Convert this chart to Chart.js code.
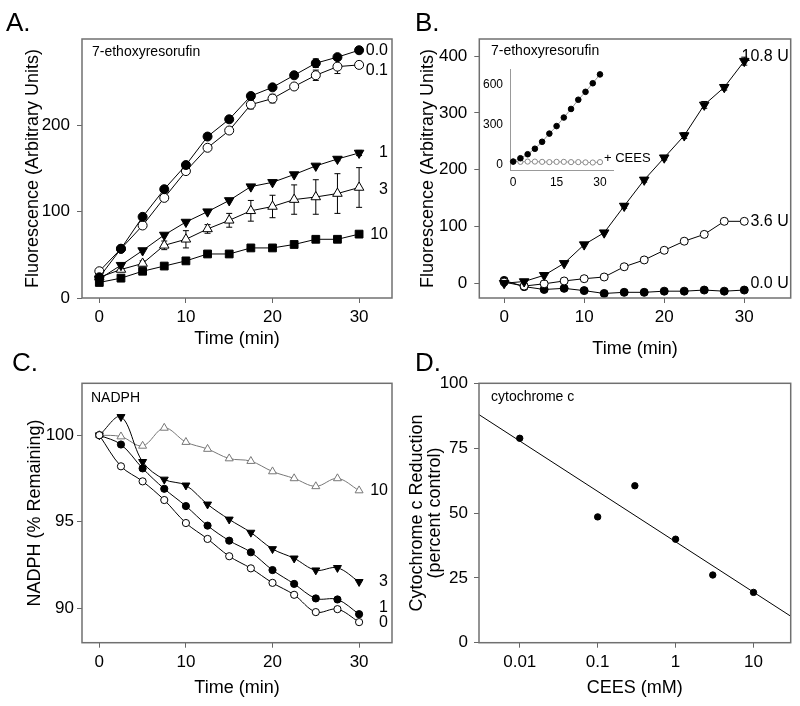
<!DOCTYPE html>
<html>
<head>
<meta charset="utf-8">
<script src="https://cdn.jsdelivr.net/npm/chart.js@4.4.0/dist/chart.umd.min.js"></script>
<style>
  body { margin: 0; background: #fff; }
  #wrap { position: relative; width: 800px; height: 706px; overflow: hidden; background: #fff; }
  canvas { position: absolute; }
</style>
</head>
<body>
<div id="wrap">
  <canvas id="chartA" width="400" height="350" style="left:0px;top:0px"></canvas>
  <canvas id="chartB" width="400" height="360" style="left:400px;top:0px"></canvas>
  <canvas id="chartInset" width="200" height="140" style="left:460px;top:55px"></canvas>
  <canvas id="chartC" width="400" height="356" style="left:0px;top:350px"></canvas>
  <canvas id="chartD" width="400" height="356" style="left:400px;top:350px"></canvas>
</div>
<script>
// ---- data ----
const timeMin = [0, 2.5, 5, 7.5, 10, 12.5, 15, 17.5, 20, 22.5, 25, 27.5, 30];

// A. fluorescence vs time at several CEES levels (mM)
const aCees00 = [24, 57, 94, 126, 154, 187, 207, 234, 244, 258, 272, 279, 287];
const aCees01 = [31, 57, 84, 116, 147, 174, 194, 224, 231, 245, 258, 268, 270];
const aCees1  = [22, 38, 55, 73, 88, 100, 113, 129, 134, 143, 153, 161, 168];
const aCees3  = [24, 33, 40, 61, 68, 80, 90, 101, 106, 114, 117, 121, 128];
const aCees10 = [18, 23, 31, 37, 43, 51, 51, 58, 58, 62, 68, 68, 74];
const aErr00 = [0, 0, 0, 0, 0, 0, 0, 0, 0, 0, 5, 3, 0];
const aErr01 = [0, 2, 0, 3, 3, 3, 3, 5, 5, 3, 6, 8, 4];
const aErr1  = [0, 0, 0, 0, 0, 0, 0, 0, 0, 0, 0, 2, 3];
const aErr3  = [0, 0, 3, 5, 10, 5, 8, 12, 13, 17, 20, 23, 23];
const aTicksY = [0, 100, 200];
const timeTicks = [0, 10, 20, 30];

// B. fluorescence vs time at several reductase units
const bUnits108 = [0, 3, 14, 35, 68, 89, 136, 182, 221, 260, 314, 345, 391];
const bUnits36  = [2, -5, -1, 4, 8, 11, 29, 41, 58, 74, 86, 109, 109];
const bUnits00  = [5, -6, -11, -9, -13, -18, -16, -16, -14, -14, -12, -14, -12];
const bErr108   = [0, 0, 0, 0, 0, 0, 4, 4, 4, 5, 6, 5, 7];
const bTicksY = [0, 100, 200, 300, 400];

// B inset
const insetControl = [22, 47, 77, 118, 170, 231, 287, 351, 415, 484, 543, 607, 673];
const insetCees    = [22, 20, 22, 22, 20, 18, 20, 20, 18, 18, 16, 15, 18];
const insetTicksY = [0, 300, 600];
const insetTicksX = [0, 15, 30];

// C. NADPH remaining
const cNadph0  = [100, 98.2, 97.33, 96.25, 94.92, 94.0, 93.0, 92.3, 91.46, 90.77, 89.77, 89.94, 89.19];
const cNadph1  = [100, 99.46, 98.08, 96.9, 95.9, 94.77, 93.9, 93.23, 92.2, 91.4, 90.56, 90.5, 89.65];
const cNadph3  = [100, 101.06, 98.46, 97.44, 97.1, 96.0, 95.13, 94.37, 93.42, 92.88, 92.19, 92.33, 91.52];
const cNadph10 = [100, 99.92, 99.38, 100.42, 99.6, 99.2, 98.65, 98.5, 97.9, 97.5, 97.04, 97.5, 96.8];
const cTicksY = [90, 95, 100];

// D. cytochrome c reduction vs CEES
const dCees = [0.01, 0.1, 0.3, 1, 3, 10];
const dReduction = [78.8, 48.5, 60.5, 39.9, 26.1, 19.4];
const dTicksX = [0.01, 0.1, 1, 10];
const dTicksY = [0, 25, 50, 75, 100];

// ---- helpers ----
Chart.defaults.font.family = 'Arial, "Liberation Sans", Helvetica, sans-serif';
Chart.defaults.color = '#000';
Chart.defaults.animation = false;
Chart.defaults.plugins.legend.display = false;
Chart.defaults.plugins.tooltip.enabled = false;

function pts(xs, ys) { return xs.map((x, i) => ({x: x, y: ys[i]})); }

function axis(o) {
  return {
    type: o.type || 'linear',
    min: o.min, max: o.max,
    afterBuildTicks: s => { s.ticks = o.ticks.map(v => ({value: v})); },
    afterFit: s => { if (o.width) s.width = o.width; if (o.height) s.height = o.height; },
    grid: {display: o.tickLen !== 0, drawOnChartArea: false, drawTicks: true,
           tickLength: o.tickLen === undefined ? 5 : o.tickLen, color: '#666', lineWidth: 1},
    border: {display: !!o.border, color: o.borderColor || '#666', width: 1},
    ticks: {font: {size: o.tickSize || 17}, padding: o.tickPad === undefined ? 4 : o.tickPad,
            color: '#000', maxRotation: 0, autoSkip: false, callback: v => String(v)},
    title: o.title ? {display: true, text: o.title, color: '#000',
                      font: {size: 18, lineHeight: o.lh || 1.2}, padding: o.titlePad}
                   : {display: false}
  };
}

function series(data, style) {
  return Object.assign({
    data: data, borderColor: '#000', borderWidth: 1, pointBorderWidth: 1,
    pointBorderColor: '#000', pointBackgroundColor: '#000', pointRadius: 4.5,
    pointStyle: 'circle', tension: 0, clip: false
  }, style);
}

const frame = {
  id: 'frame',
  afterDatasetsDraw(chart) {
    const {ctx, chartArea: a} = chart;
    ctx.save();
    ctx.strokeStyle = '#707070';
    ctx.lineWidth = 1.5;
    ctx.strokeRect(a.left, a.top, a.right - a.left, a.bottom - a.top);
    ctx.restore();
  }
};

const errorBars = {
  id: 'errorBars',
  beforeDatasetsDraw(chart, args, opts) {
    const {ctx} = chart;
    const ys = chart.scales.y;
    (opts.sets || []).forEach(set => {
      const meta = chart.getDatasetMeta(set.ds);
      const values = chart.data.datasets[set.ds].data;
      ctx.save();
      ctx.strokeStyle = '#000';
      ctx.lineWidth = 1;
      meta.data.forEach((pt, i) => {
        const e = set.err[i];
        if (!e) return;
        const top = ys.getPixelForValue(values[i].y + e);
        const bot = ys.getPixelForValue(values[i].y - e);
        ctx.beginPath();
        ctx.moveTo(pt.x, top); ctx.lineTo(pt.x, bot);
        ctx.moveTo(pt.x - 3, top); ctx.lineTo(pt.x + 3, top);
        ctx.moveTo(pt.x - 3, bot); ctx.lineTo(pt.x + 3, bot);
        ctx.stroke();
      });
      ctx.restore();
    });
  }
};

// text items: canvas pixels, or the y of a data value and an x measured from the right edge
const textLabels = {
  id: 'textLabels',
  afterDraw(chart, args, opts) {
    const {ctx, chartArea: a, scales} = chart;
    (opts.items || []).forEach(it => {
      let x = it.x, y = it.y;
      if (it.fromRight !== undefined) x = a.right - it.fromRight;
      if (it.xData !== undefined) x = scales.x.getPixelForValue(it.xData);
      if (it.yData !== undefined) y = scales.y.getPixelForValue(it.yData);
      ctx.save();
      ctx.font = (it.size || 16) + 'px Arial, "Liberation Sans", sans-serif';
      ctx.fillStyle = it.color || '#000';
      ctx.textAlign = it.align || 'left';
      ctx.textBaseline = it.baseline || 'middle';
      ctx.fillText(it.text, x + (it.dx || 0), y + (it.dy || 0));
      ctx.restore();
    });
  }
};

function last(arr) { return arr[arr.length - 1]; }

// ---- A ----
new Chart(document.getElementById('chartA'), {
  type: 'line',
  data: {datasets: [
    series(pts(timeMin, aCees00), {}),
    series(pts(timeMin, aCees01), {pointBackgroundColor: '#fff'}),
    series(pts(timeMin, aCees1), {pointStyle: 'triangle', pointRotation: 180, pointRadius: 5.5}),
    series(pts(timeMin, aCees3), {pointStyle: 'triangle', pointRadius: 5.5, pointBackgroundColor: '#fff'}),
    series(pts(timeMin, aCees10), {pointStyle: 'rect', pointRadius: 5.5})
  ]},
  options: {
    responsive: false,
    layout: {padding: {top: 39, right: 8, left: 0, bottom: 0}},
    scales: {
      x: axis({min: -2, max: 33.8, ticks: timeTicks, height: 52, tickPad: 4,
               title: 'Time (min)', titlePad: {top: 0, bottom: 0}}),
      y: axis({min: 0, max: 300, ticks: aTicksY, width: 82, tickPad: 7,
               title: 'Fluorescence (Arbitrary Units)', titlePad: {top: 22.5, bottom: 0}})
    },
    plugins: {
      errorBars: {sets: [{ds: 0, err: aErr00}, {ds: 1, err: aErr01}, {ds: 2, err: aErr1}, {ds: 3, err: aErr3}]},
      textLabels: {items: [
        {text: 'A.', x: 6, y: 31, size: 26, baseline: 'alphabetic'},
        {text: '7-ethoxyresorufin', x: 92, y: 52, size: 14},
        {text: '0.0', fromRight: 4, yData: last(aCees00), align: 'right'},
        {text: '0.1', fromRight: 4, yData: last(aCees01), dy: 6, align: 'right'},
        {text: '1', fromRight: 4, yData: last(aCees1), align: 'right'},
        {text: '3', fromRight: 4, yData: last(aCees3), dy: 2, align: 'right'},
        {text: '10', fromRight: 4, yData: last(aCees10), align: 'right'}
      ]}
    }
  },
  plugins: [frame, errorBars, textLabels]
});

// ---- B ----
new Chart(document.getElementById('chartB'), {
  type: 'line',
  data: {datasets: [
    series(pts(timeMin, bUnits108), {pointStyle: 'triangle', pointRotation: 180, pointRadius: 5.5}),
    series(pts(timeMin, bUnits36), {pointBackgroundColor: '#fff', pointRadius: 4}),
    series(pts(timeMin, bUnits00), {pointRadius: 4})
  ]},
  options: {
    responsive: false,
    layout: {padding: {top: 39, right: 9.3, left: 0, bottom: 0}},
    scales: {
      x: axis({min: -3.1, max: 35.8, ticks: timeTicks, height: 62, tickPad: 4,
               title: 'Time (min)', titlePad: {top: 0, bottom: 0}}),
      y: axis({min: -26, max: 430, ticks: bTicksY, width: 79.3, tickPad: 7,
               title: 'Fluorescence (Arbitrary Units)', titlePad: {top: 17, bottom: 0}})
    },
    plugins: {
      errorBars: {sets: [{ds: 0, err: bErr108}]},
      textLabels: {items: [
        {text: 'B.', x: 15, y: 31, size: 26, baseline: 'alphabetic'},
        {text: '7-ethoxyresorufin', x: 91, y: 51, size: 14},
        {text: '10.8 U', fromRight: 2, yData: last(bUnits108), dy: -5, align: 'right', size: 16},
        {text: '3.6 U', fromRight: 2, yData: last(bUnits36), align: 'right', size: 16},
        {text: '0.0 U', fromRight: 2, yData: last(bUnits00), dy: -6, align: 'right', size: 16}
      ]}
    }
  },
  plugins: [frame, errorBars, textLabels]
});

// ---- B inset ----
new Chart(document.getElementById('chartInset'), {
  type: 'line',
  data: {datasets: [
    series(pts(timeMin, insetControl), {borderColor: '#999', pointRadius: 2.8}),
    series(pts(timeMin, insetCees), {borderColor: '#999', pointBorderColor: '#888',
                                     pointBackgroundColor: '#fff', pointRadius: 2.6})
  ]},
  options: {
    responsive: false,
    layout: {padding: {top: 12, right: 47, left: 0, bottom: 0}},
    scales: {
      x: axis({min: -1.1, max: 34.5, ticks: insetTicksX, height: 24.3, tickLen: 0, tickPad: 5,
               tickSize: 12, border: true, borderColor: '#999'}),
      y: axis({min: -46, max: 712, ticks: insetTicksY, width: 50, tickLen: 0, tickPad: 7,
               tickSize: 12, border: true, borderColor: '#999'})
    },
    plugins: {
      textLabels: {items: [
        {text: '+ CEES', xData: last(timeMin), yData: last(insetCees), dx: 4, dy: -4, size: 13}
      ]}
    }
  },
  plugins: [textLabels]
});

// ---- C ----
new Chart(document.getElementById('chartC'), {
  type: 'line',
  data: {datasets: [
    series(pts(timeMin, cNadph0), {pointBackgroundColor: '#fff', pointRadius: 3.6, tension: 0.35}),
    series(pts(timeMin, cNadph1), {pointRadius: 3.6, tension: 0.35}),
    series(pts(timeMin, cNadph3), {pointStyle: 'triangle', pointRotation: 180, pointRadius: 4.6, tension: 0.35}),
    series(pts(timeMin, cNadph10), {pointStyle: 'triangle', pointRadius: 4.6, borderColor: '#777',
                                    pointBorderColor: '#777', pointBackgroundColor: '#fff', tension: 0.35})
  ]},
  options: {
    responsive: false,
    layout: {padding: {top: 33.3, right: 8, left: 0, bottom: 0}},
    scales: {
      x: axis({min: -2, max: 33.8, ticks: timeTicks, height: 63.3, tickPad: 4,
               title: 'Time (min)', titlePad: {top: 0, bottom: 7.5}}),
      y: axis({min: 88, max: 103, ticks: cTicksY, width: 82, tickPad: 3,
               title: 'NADPH (% Remaining)', titlePad: {top: 24, bottom: 0}})
    },
    plugins: {
      textLabels: {items: [
        {text: 'C.', x: 12, y: 21, size: 26, baseline: 'alphabetic'},
        {text: 'NADPH', x: 91, y: 48, size: 14},
        {text: '10', fromRight: 4, yData: last(cNadph10), align: 'right'},
        {text: '3', fromRight: 4, yData: last(cNadph3), align: 'right'},
        {text: '1', fromRight: 4, yData: last(cNadph1), dy: -7, align: 'right'},
        {text: '0', fromRight: 4, yData: last(cNadph0), align: 'right'}
      ]}
    }
  },
  plugins: [frame, textLabels]
});

// ---- D ----
// least-squares line in log10(CEES)
const dLog = dCees.map(v => Math.log10(v));
const mx = dLog.reduce((s, v) => s + v, 0) / dLog.length;
const my = dReduction.reduce((s, v) => s + v, 0) / dReduction.length;
let sxy = 0, sxx = 0;
dLog.forEach((v, i) => { sxy += (v - mx) * (dReduction[i] - my); sxx += (v - mx) * (v - mx); });
const slope = sxy / sxx;
const fit = x => my + slope * (Math.log10(x) - mx);
const dMin = 0.003, dMax = 30;

new Chart(document.getElementById('chartD'), {
  type: 'line',
  data: {datasets: [
    series(pts(dCees, dReduction), {showLine: false, pointRadius: 3.2}),
    series([{x: dMin, y: fit(dMin)}, {x: dMax, y: fit(dMax)}], {pointRadius: 0, clip: 0})
  ]},
  options: {
    responsive: false,
    layout: {padding: {top: 33.3, right: 9.3, left: 0, bottom: 0}},
    scales: {
      x: axis({type: 'logarithmic', min: dMin, max: dMax, ticks: dTicksX, height: 63.3, tickPad: 4,
               title: 'CEES (mM)', titlePad: {top: 0, bottom: 7.5}}),
      y: axis({min: 0, max: 100, ticks: dTicksY, width: 79, tickPad: 6, lh: 1.02,
               title: ['Cytochrome c Reduction', '(percent control)'], titlePad: {top: 7.5, bottom: 0}})
    },
    plugins: {
      textLabels: {items: [
        {text: 'D.', x: 15, y: 21, size: 26, baseline: 'alphabetic'},
        {text: 'cytochrome c', x: 91, y: 47, size: 14}
      ]}
    }
  },
  plugins: [frame, textLabels]
});
</script>
</body>
</html>
